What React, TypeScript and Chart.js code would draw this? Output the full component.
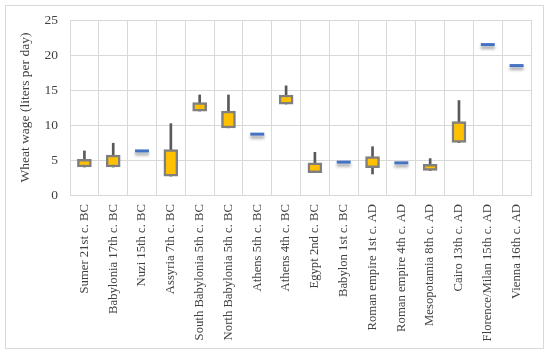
import React, { useEffect, useRef } from 'react';
import { Chart, registerables } from 'chart.js';

Chart.register(...registerables);

const categories = [
  'Sumer 21st c. BC',
  'Babylonia 17th c. BC',
  'Nuzi 15th c. BC',
  'Assyria 7th c. BC',
  'South Babylonia 5th c. BC',
  'North Babylonia 5th c. BC',
  'Athens 5th c. BC',
  'Athens 4th c. BC',
  'Egypt 2nd c. BC',
  'Babylon 1st c. BC',
  'Roman empire 1st c. AD',
  'Roman empire 4th c. AD',
  'Mesopotamia 8th c. AD',
  'Cairo 13th c. AD',
  'Florence/Milan 15th c. AD',
  'Vienna 16th c. AD',
];

const whiskerLow = [4.0, 4.0, null, 2.7, 12.0, 9.6, null, 13.0, 3.2, null, 3.0, null, 3.5, 7.5, null, null];
const whiskerHigh = [6.3, 7.4, null, 10.2, 14.3, 14.3, null, 15.6, 6.1, null, 6.9, null, 5.2, 13.5, null, null];
const boxLow = [4.0, 4.0, null, 2.7, 12.0, 9.6, null, 13.0, 3.2, null, 3.9, null, 3.5, 7.5, null, null];
const boxHigh = [5.1, 5.7, null, 6.5, 13.2, 12.0, null, 14.3, 4.6, null, 5.5, null, 4.4, 10.5, null, null];
const singleValue = [null, null, 6.3, null, null, null, 8.7, null, null, 4.7, null, 4.6, null, null, 21.5, 18.5];

const yMin = 0;
const yMax = 25;
const yStep = 5;
const yTitle = 'Wheat wage (liters per day)';

const shadowPlugin = {
  id: 'dashShadow',
  beforeDatasetDraw(chart: any, args: any) {
    if (args.index === 2) {
      const ctx = chart.ctx;
      ctx.save();
      ctx.shadowColor = 'rgba(0,0,0,0.35)';
      ctx.shadowBlur = 3;
      ctx.shadowOffsetY = 3;
    }
  },
  afterDatasetDraw(chart: any, args: any) {
    if (args.index === 2) {
      chart.ctx.restore();
    }
  },
};

const serif = '"Liberation Serif", "Times New Roman", serif';

export default function App() {
  const ref = useRef<HTMLCanvasElement | null>(null);

  useEffect(() => {
    if (!ref.current) return;
    const chart = new Chart(ref.current, {
      type: 'bar',
      data: {
        labels: categories,
        datasets: [
          {
            type: 'bar',
            data: categories.map((_, i) =>
              whiskerLow[i] == null ? null : [whiskerLow[i], whiskerHigh[i]]
            ) as any,
            backgroundColor: '#595959',
            barThickness: 2,
            grouped: false,
            order: 3,
          } as any,
          {
            type: 'bar',
            data: categories.map((_, i) =>
              boxLow[i] == null ? null : [boxLow[i], boxHigh[i]]
            ) as any,
            backgroundColor: '#FFC000',
            borderColor: '#7F7F7F',
            borderWidth: 2.5,
            borderSkipped: false,
            barThickness: 14,
            grouped: false,
            order: 2,
          } as any,
          {
            type: 'line',
            data: singleValue as any,
            showLine: false,
            pointStyle: 'line',
            pointRadius: 7,
            pointHoverRadius: 7,
            pointBorderWidth: 3,
            borderColor: '#4472C4',
            backgroundColor: '#4472C4',
            order: 1,
          } as any,
        ],
      },
      options: {
        animation: false,
        responsive: false,
        maintainAspectRatio: false,
        layout: { padding: { top: 17, right: 19, left: 0, bottom: 0 } },
        plugins: {
          legend: { display: false },
          tooltip: { enabled: false },
        },
        scales: {
          x: {
            offset: true,
            grid: { color: '#D9D9D9', offset: true, drawTicks: false },
            border: { color: '#D9D9D9' },
            ticks: {
              color: '#404040',
              font: { family: serif, size: 12.7 },
              minRotation: 90,
              maxRotation: 90,
              autoSkip: false,
              padding: 9,
            },
            afterFit(scale: any) {
              scale.height = 160;
            },
          },
          y: {
            min: yMin,
            max: yMax,
            ticks: {
              stepSize: yStep,
              color: '#404040',
              font: { family: serif, size: 13.5 },
              padding: 12,
            },
            grid: { color: '#D9D9D9', drawTicks: false },
            border: { color: '#D9D9D9' },
            title: {
              display: true,
              text: yTitle,
              color: '#404040',
              font: { family: serif, size: 13.5 },
              padding: { top: 17, bottom: 0 },
            },
            afterFit(scale: any) {
              scale.width = 70;
            },
          },
        },
      } as any,
      plugins: [shadowPlugin],
    });
    return () => chart.destroy();
  }, []);

  return (
    <div style={{ position: 'absolute', left: 0, top: 0, width: 550, height: 355, background: '#fff' }}>
      <div
        style={{
          position: 'absolute',
          left: 5,
          top: 5,
          width: 539,
          height: 344,
          border: '1px solid #D9D9D9',
          boxSizing: 'border-box',
        }}
      />
      <canvas ref={ref} width={550} height={355} style={{ position: 'absolute', left: 0, top: 0 }} />
    </div>
  );
}
